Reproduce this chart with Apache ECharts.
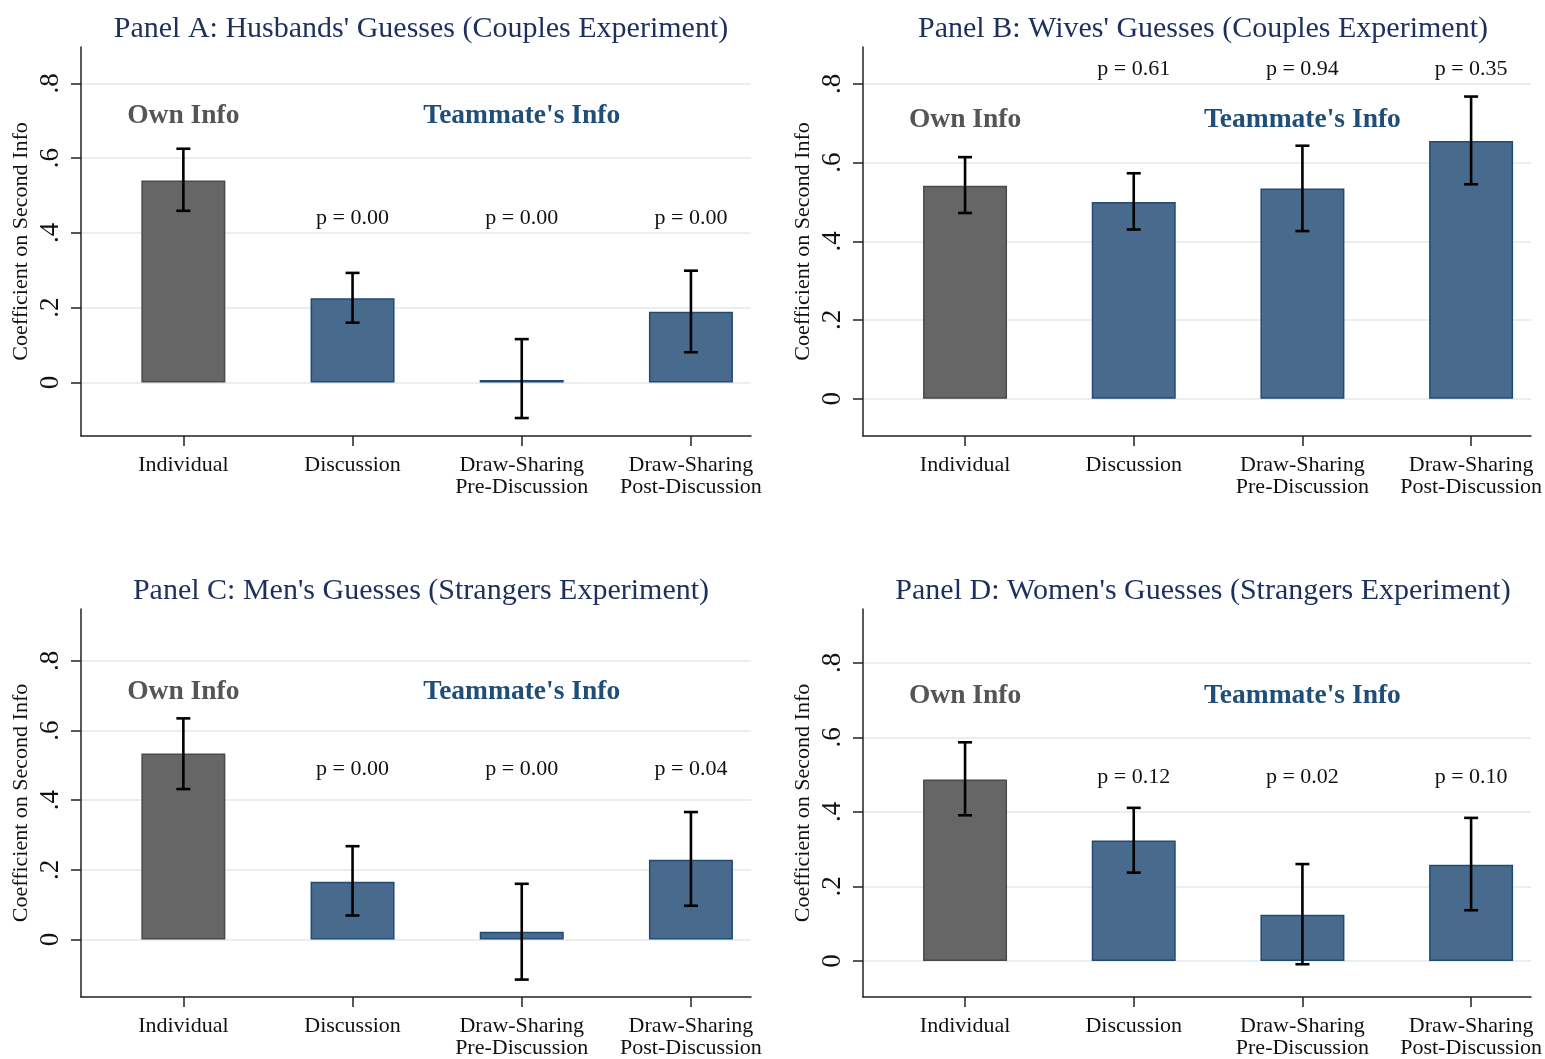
<!DOCTYPE html>
<html>
<head>
<meta charset="utf-8">
<script src="https://cdn.jsdelivr.net/npm/echarts@6/dist/echarts.min.js"></script>
<style>
html, body { margin: 0; padding: 0; background: #fff; }
#chart { width: 1545px; height: 1059px; }
</style>
</head>
<body>
<div id="chart"></div>
<script>
// categories and tick labels
var categories = ['Individual', 'Discussion', 'Draw-Sharing\nPre-Discussion', 'Draw-Sharing\nPost-Discussion'];
var catPos = [1, 2, 3, 4];
var yTicks = [0, 0.2, 0.4, 0.6, 0.8];
var yTickLabels = ['0', '.2', '.4', '.6', '.8'];

var titles = [
    'Panel A: Husbands\' Guesses (Couples Experiment)',
    'Panel B: Wives\' Guesses (Couples Experiment)',
    'Panel C: Men\'s Guesses (Strangers Experiment)',
    'Panel D: Women\'s Guesses (Strangers Experiment)'
];

// coefficients + 95% CI
var coefA = [0.540, 0.225, 0.007, 0.189];
var lowA  = [0.459, 0.160, -0.095, 0.081];
var highA = [0.625, 0.293, 0.116, 0.299];
var pA    = ['', 'p = 0.00', 'p = 0.00', 'p = 0.00'];

var coefB = [0.541, 0.500, 0.534, 0.655];
var lowB  = [0.472, 0.430, 0.426, 0.545];
var highB = [0.614, 0.573, 0.643, 0.768];
var pB    = ['', 'p = 0.61', 'p = 0.94', 'p = 0.35'];

var coefC = [0.534, 0.166, 0.022, 0.229];
var lowC  = [0.432, 0.069, -0.115, 0.097];
var highC = [0.635, 0.268, 0.160, 0.366];
var pC    = ['', 'p = 0.00', 'p = 0.00', 'p = 0.04'];

var coefD = [0.487, 0.323, 0.124, 0.258];
var lowD  = [0.391, 0.237, -0.009, 0.136];
var highD = [0.587, 0.411, 0.260, 0.384];
var pD    = ['', 'p = 0.12', 'p = 0.02', 'p = 0.10'];

var serif = '"Liberation Serif", "DejaVu Serif", "Times New Roman", serif';
var gray = '#666666', grayEdge = '#4a4a4a';
var blue = '#486a8c', blueEdge = '#224b73';
var navy = '#1c2f5e';

// panel layout (pixels) and axis ranges
var panels = [
    {left: 81,  top: 47,  height: 389, ymin: -0.143, ymax: 0.897, pY: 0.440, infoY: 0.712, coef: coefA, low: lowA, high: highA, p: pA},
    {left: 863, top: 47,  height: 389, ymin: -0.095, ymax: 0.894, pY: 0.838, infoY: 0.709, coef: coefB, low: lowB, high: highB, p: pB},
    {left: 81,  top: 609, height: 388, ymin: -0.165, ymax: 0.949, pY: 0.488, infoY: 0.712, coef: coefC, low: lowC, high: highC, p: pC},
    {left: 863, top: 609, height: 388, ymin: -0.097, ymax: 0.945, pY: 0.492, infoY: 0.712, coef: coefD, low: lowD, high: highD, p: pD}
];
var plotWidth = 670;

function errorBar(params, api) {
    var x = api.value(0);
    var a = api.coord([x, api.value(1)]);
    var b = api.coord([x, api.value(2)]);
    var cap = 7;
    var st = {stroke: '#000', lineWidth: 2.6};
    return {
        type: 'group',
        children: [
            {type: 'line', shape: {x1: a[0], y1: a[1], x2: b[0], y2: b[1]}, style: st},
            {type: 'line', shape: {x1: a[0] - cap, y1: a[1], x2: a[0] + cap, y2: a[1]}, style: st},
            {type: 'line', shape: {x1: b[0] - cap, y1: b[1], x2: b[0] + cap, y2: b[1]}, style: st}
        ]
    };
}

function textItem(params, api) {
    var pt = api.coord([api.value(0), api.value(1)]);
    var item = textData[params.seriesIndex][params.dataIndex];
    return {
        type: 'text',
        x: pt[0],
        y: pt[1],
        style: {
            text: item.text,
            font: item.font,
            fill: item.color,
            align: 'center',
            verticalAlign: 'middle'
        }
    };
}

var textData = {};
var option = {
    animation: false,
    backgroundColor: '#fff',
    title: [],
    grid: [],
    xAxis: [],
    yAxis: [],
    series: []
};

panels.forEach(function (pn, i) {
    option.title.push({
        text: titles[i],
        left: pn.left + plotWidth / 2,
        top: pn.top - 38,
        textAlign: 'center',
        textStyle: {fontFamily: serif, fontWeight: 'normal', fontSize: 30, color: navy}
    });
    option.grid.push({left: pn.left, top: pn.top, width: plotWidth, height: pn.height});
    option.xAxis.push({
        type: 'value',
        gridIndex: i,
        min: 0.395,
        max: 4.355,
        axisLine: {show: true, onZero: false, lineStyle: {color: '#222', width: 1.5}},
        axisTick: {show: true, length: 10, customValues: catPos, lineStyle: {color: '#222', width: 1.5}},
        axisLabel: {
            customValues: catPos,
            formatter: function (v) { return categories[Math.round(v) - 1]; },
            fontFamily: serif, fontSize: 22, color: '#111', lineHeight: 22, margin: 18
        },
        splitLine: {show: false}
    });
    option.yAxis.push({
        type: 'value',
        gridIndex: i,
        min: pn.ymin,
        max: pn.ymax,
        name: 'Coefficient on Second Info',
        nameLocation: 'middle',
        nameRotate: 90,
        nameGap: 49,
        nameTextStyle: {fontFamily: serif, fontSize: 22, color: '#111'},
        axisLine: {show: true, onZero: false, lineStyle: {color: '#222', width: 1.5}},
        axisTick: {show: true, length: 10, customValues: yTicks, lineStyle: {color: '#222', width: 1.5}},
        axisLabel: {
            customValues: yTicks,
            rotate: 90,
            formatter: function (v) { return yTickLabels[yTicks.indexOf(Math.round(v * 10) / 10)]; },
            fontFamily: serif, fontSize: 27, color: '#111', margin: 17
        },
        splitLine: {show: true, lineStyle: {color: '#e7eff2', width: 2}}
    });

    var bars = pn.coef.map(function (v, k) {
        return {
            value: [catPos[k], v],
            itemStyle: k === 0
                ? {color: gray, borderColor: grayEdge, borderWidth: 1.5}
                : {color: blue, borderColor: blueEdge, borderWidth: 1.5}
        };
    });
    option.series.push({
        type: 'bar',
        xAxisIndex: i, yAxisIndex: i,
        barWidth: 84,
        data: bars,
        z: 2
    });
    option.series.push({
        type: 'custom',
        xAxisIndex: i, yAxisIndex: i,
        renderItem: errorBar,
        data: pn.coef.map(function (v, k) { return [catPos[k], pn.low[k], pn.high[k]]; }),
        z: 3
    });

    var txt = [];
    pn.p.forEach(function (s, k) {
        if (s) txt.push({pos: [catPos[k], pn.pY], text: s, font: '22px ' + serif, color: '#111'});
    });
    txt.push({pos: [catPos[0], pn.infoY], text: 'Own Info', font: 'bold 27.5px ' + serif, color: '#555555'});
    txt.push({pos: [catPos[2], pn.infoY], text: 'Teammate\'s Info', font: 'bold 27.5px ' + serif, color: '#1f4e79'});
    textData[option.series.length] = txt;
    option.series.push({
        type: 'custom',
        xAxisIndex: i, yAxisIndex: i,
        renderItem: textItem,
        data: txt.map(function (t) { return t.pos; }),
        z: 4
    });
});

var chart = echarts.init(document.getElementById('chart'));
chart.setOption(option);
</script>
</body>
</html>
